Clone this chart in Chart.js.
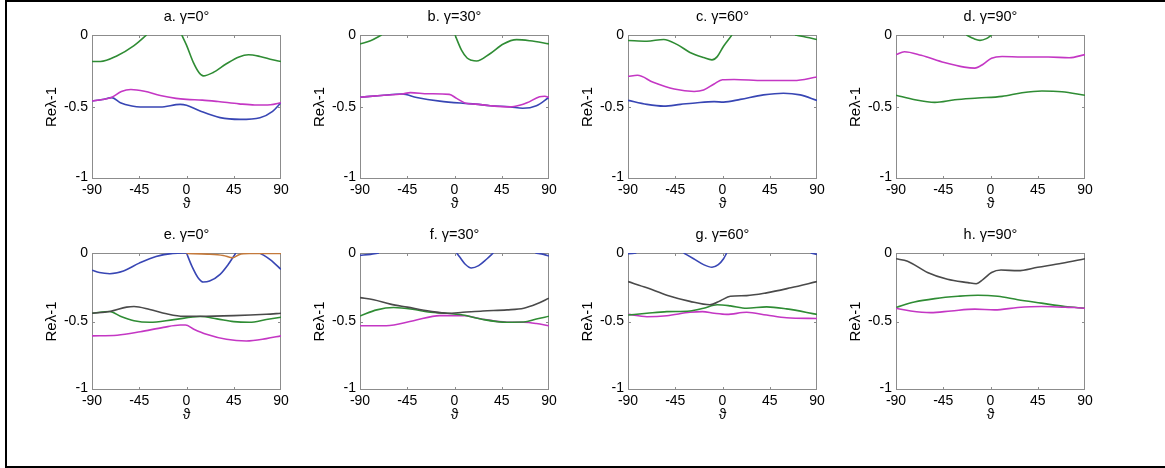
<!DOCTYPE html>
<html>
<head>
<meta charset="utf-8">
<script src="https://cdn.jsdelivr.net/npm/chart.js@4.4.1/dist/chart.umd.min.js"></script>
<style>
  html, body { margin: 0; padding: 0; background: #fff; }
  body { width: 1165px; height: 468px; position: relative; overflow: hidden; }
  #frame { position: absolute; left: 5px; top: 0; width: 1200px; height: 468px;
           border: 2px solid #000; border-right: none; box-sizing: border-box; }
  canvas { position: absolute; }
</style>
</head>
<body>
<div id="frame"></div>
<script>
// Axis ticks (degrees for ϑ, Re λ - 1 on the vertical axis)
const thetaTicks = [-90, -45, 0, 45, 90];
const reTicks = [-1, -0.5, 0];

const panelTitles = ['a. γ=0°', 'b. γ=30°', 'c. γ=60°', 'd. γ=90°',
                     'e. γ=0°', 'f. γ=30°', 'g. γ=60°', 'h. γ=90°'];

// Branches, as [ϑ, Re λ - 1] pairs. Branches that leave the top of the
// window are split into separate pieces.
const aGreen1 = [[-90,-0.184],[-82,-0.184],[-66,-0.144],[-50,-0.074],[-38,0]];
const aGreen2 = [[-4.5,0],[0,-0.07],[6.5,-0.19],[12,-0.262],[16,-0.284],[25,-0.262],[38,-0.2],[50,-0.152],[59,-0.137],[70,-0.149],[82,-0.172],[90,-0.184]];
const aMagenta = [[-90,-0.458],[-80,-0.448],[-71,-0.432],[-62,-0.392],[-53,-0.378],[-40,-0.39],[-25,-0.42],[-10,-0.44],[0,-0.447],[15,-0.452],[30,-0.462],[50,-0.478],[65,-0.486],[80,-0.484],[90,-0.47]];
const aBlue = [[-90,-0.458],[-80,-0.448],[-71,-0.435],[-63,-0.47],[-52,-0.493],[-44,-0.5],[-25,-0.5],[-6,-0.482],[0,-0.488],[13,-0.528],[32,-0.574],[51,-0.586],[70,-0.574],[82,-0.53],[90,-0.47]];

const bGreen1 = [[-90,-0.062],[-80,-0.04],[-69.4,0]];
const bGreen2 = [[0.5,0],[6.8,-0.107],[12,-0.16],[16.3,-0.176],[21,-0.181],[33.8,-0.13],[46.5,-0.062],[59.2,-0.032],[71.9,-0.04],[90,-0.062]];
const bMagenta = [[-90,-0.432],[-70,-0.42],[-50,-0.41],[-42,-0.4],[-25,-0.408],[-5,-0.412],[2,-0.44],[11,-0.474],[20,-0.48],[34,-0.491],[53,-0.499],[62,-0.488],[69,-0.471],[81,-0.429],[86,-0.425],[90,-0.434]];
const bBlue = [[-90,-0.432],[-70,-0.42],[-50,-0.41],[-36,-0.434],[-14,-0.459],[8,-0.474],[20,-0.48],[34,-0.491],[53,-0.499],[65,-0.509],[78,-0.491],[90,-0.432]];

const cGreen1 = [[-90,-0.038],[-72,-0.043],[-56,-0.031],[-43,-0.067],[-31,-0.121],[-18,-0.157],[-10,-0.173],[-5,-0.15],[1,-0.078],[9,0]];
const cGreen2 = [[69,0],[80,-0.015],[90,-0.031]];
const cMagenta = [[-90,-0.287],[-81,-0.28],[-66,-0.328],[-46,-0.375],[-27,-0.392],[-18,-0.382],[-8,-0.34],[0,-0.311],[11,-0.309],[39,-0.316],[68,-0.316],[90,-0.292]];
const cBlue = [[-90,-0.454],[-72,-0.482],[-56,-0.494],[-40,-0.482],[-24,-0.47],[-8,-0.463],[1,-0.466],[17,-0.447],[39,-0.416],[58,-0.404],[74,-0.416],[90,-0.454]];

const dGreen1 = [[-23,0],[-16,-0.025],[-10,-0.037],[-4,-0.025],[1,0]];
const dGreen2 = [[-90,-0.418],[-72,-0.45],[-53,-0.468],[-34,-0.45],[-12,-0.438],[11,-0.426],[30,-0.401],[49,-0.389],[68,-0.394],[90,-0.418]];
const dMagenta = [[-90,-0.136],[-82,-0.116],[-66,-0.141],[-44,-0.191],[-25,-0.223],[-15,-0.23],[-7,-0.203],[1,-0.161],[11,-0.149],[30,-0.153],[55,-0.153],[75,-0.158],[90,-0.136]];

const eBlue1 = [[-90,-0.126],[-83,-0.143],[-73,-0.151],[-60,-0.131],[-45,-0.074],[-29,-0.025],[-13,-0.003],[0,0]];
const eBlue2 = [[0,0],[5,-0.094],[11,-0.18],[16,-0.212],[22,-0.205],[32,-0.156],[40,-0.081],[44,-0.035],[47,0]];
const eBlue3 = [[70,0],[80,-0.05],[90,-0.119]];
const eOrange = [[0,-0.003],[20,-0.008],[35,-0.018],[44,-0.035],[50,-0.012],[60,-0.004],[75,-0.004],[90,-0.003]];
const eBlack = [[-90,-0.44],[-73,-0.427],[-57,-0.395],[-50,-0.39],[-35,-0.412],[-19,-0.444],[-3,-0.462],[13,-0.462],[45,-0.457],[76,-0.447],[90,-0.44]];
const eGreen = [[-90,-0.44],[-73,-0.427],[-63,-0.462],[-50,-0.494],[-35,-0.506],[-12,-0.486],[13,-0.464],[29,-0.481],[45,-0.501],[60,-0.506],[76,-0.486],[90,-0.469]];
const eMagenta = [[-90,-0.605],[-66,-0.6],[-44,-0.575],[-22,-0.543],[-6,-0.526],[-1,-0.526],[7,-0.556],[19,-0.593],[38,-0.63],[57,-0.642],[76,-0.625],[90,-0.605]];

const fBlue1 = [[-90,-0.017],[-80,-0.01],[-72,0]];
const fBlue2 = [[2,0],[5,-0.03],[10,-0.08],[16,-0.109],[23,-0.092],[31,-0.042],[37,0]];
const fBlue3 = [[77,0],[85,-0.01],[90,-0.022]];
const fBlack = [[-90,-0.326],[-77,-0.341],[-61,-0.373],[-45,-0.395],[-23,-0.425],[-7,-0.44],[8,-0.433],[27,-0.423],[50,-0.415],[66,-0.403],[78,-0.373],[90,-0.33]];
const fGreen = [[-90,-0.46],[-74,-0.415],[-58,-0.398],[-40,-0.41],[-23,-0.433],[-7,-0.44],[8,-0.453],[27,-0.485],[50,-0.505],[66,-0.504],[78,-0.482],[90,-0.462]];
const fMagenta = [[-90,-0.531],[-65,-0.531],[-39,-0.494],[-14,-0.457],[2,-0.457],[10,-0.458],[27,-0.483],[50,-0.505],[66,-0.506],[78,-0.515],[90,-0.531]];

const gBlue1 = [[-90,-0.005],[-82,0]];
const gBlue2 = [[-37,0],[-27.5,-0.042],[-18,-0.085],[-10,-0.104],[-4,-0.085],[1,-0.042],[4,0]];
const gBlue3 = [[84,0],[90,-0.01]];
const gBlack = [[-90,-0.209],[-72,-0.254],[-53,-0.308],[-31,-0.353],[-12,-0.378],[-2,-0.348],[7.5,-0.316],[23,-0.311],[42,-0.291],[65,-0.254],[90,-0.209]];
const gGreen = [[-90,-0.453],[-72,-0.44],[-53,-0.428],[-31,-0.423],[-18,-0.403],[-5,-0.378],[7.5,-0.386],[23,-0.403],[42,-0.393],[61,-0.408],[90,-0.448]];
const gMagenta = [[-90,-0.448],[-72,-0.465],[-53,-0.458],[-31,-0.433],[-19,-0.428],[-8,-0.44],[4,-0.448],[23,-0.433],[42,-0.453],[61,-0.473],[90,-0.478]];

const hBlack = [[-90,-0.042],[-79,-0.06],[-60,-0.142],[-41,-0.192],[-21.5,-0.216],[-13.6,-0.224],[-7,-0.192],[1,-0.142],[10,-0.124],[26,-0.129],[45,-0.104],[68,-0.075],[90,-0.042]];
const hGreen = [[-90,-0.398],[-72.5,-0.358],[-53,-0.333],[-31,-0.316],[-12,-0.308],[7,-0.316],[26,-0.341],[48.5,-0.366],[71,-0.391],[90,-0.403]];
const hMagenta = [[-90,-0.403],[-76,-0.423],[-57,-0.435],[-37.5,-0.423],[-15,-0.41],[4,-0.415],[26,-0.398],[48.5,-0.391],[71,-0.396],[80,-0.398],[90,-0.403]];

const GREEN = '#2f8c34', MAGENTA = '#c437c4', BLUE = '#3846b4', BLACK = '#4a4a4a', ORANGE = '#c47a3c';

// first entry is drawn on top
const panelSeries = [
  [[aMagenta, MAGENTA], [aBlue, BLUE], [aGreen1, GREEN], [aGreen2, GREEN]],
  [[bMagenta, MAGENTA], [bBlue, BLUE], [bGreen1, GREEN], [bGreen2, GREEN]],
  [[cMagenta, MAGENTA], [cBlue, BLUE], [cGreen1, GREEN], [cGreen2, GREEN]],
  [[dMagenta, MAGENTA], [dGreen1, GREEN], [dGreen2, GREEN]],
  [[eOrange, ORANGE], [eBlue1, BLUE], [eBlue2, BLUE], [eBlue3, BLUE], [eBlack, BLACK], [eGreen, GREEN], [eMagenta, MAGENTA]],
  [[fBlue1, BLUE], [fBlue2, BLUE], [fBlue3, BLUE], [fBlack, BLACK], [fGreen, GREEN], [fMagenta, MAGENTA]],
  [[gBlue1, BLUE], [gBlue2, BLUE], [gBlue3, BLUE], [gBlack, BLACK], [gGreen, GREEN], [gMagenta, MAGENTA]],
  [[hBlack, BLACK], [hMagenta, MAGENTA], [hGreen, GREEN]]
];

// page layout of the plotting windows
const colLeft = [92, 360, 628, 896];
const rowTop = [35, 253];
const rowHeight = [144, 137];
const PLOT_W = 189;
const PAD_L = 70, PAD_R = 20, PAD_T = 35, PAD_B = 45;
const FONT = '"Liberation Sans", Arial, Helvetica, sans-serif';

// grey box round the plotting window plus short inward tick marks
const boxPlugin = {
  id: 'box',
  beforeDatasetsDraw(chart) {
    const { ctx, chartArea: a, scales: { x, y } } = chart;
    ctx.save();
    ctx.strokeStyle = '#8c8c8c';
    ctx.lineWidth = 1;
    ctx.strokeRect(a.left + 0.5, a.top + 0.5, a.right - a.left - 1, a.bottom - a.top - 1);
    ctx.beginPath();
    thetaTicks.slice(1, -1).forEach(v => {
      const px = Math.round(x.getPixelForValue(v)) + 0.5;
      ctx.moveTo(px, a.bottom); ctx.lineTo(px, a.bottom - 3);
      ctx.moveTo(px, a.top); ctx.lineTo(px, a.top + 3);
    });
    reTicks.slice(1, -1).forEach(v => {
      const py = Math.round(y.getPixelForValue(v)) + 0.5;
      ctx.moveTo(a.left, py); ctx.lineTo(a.left + 3, py);
      ctx.moveTo(a.right, py); ctx.lineTo(a.right - 3, py);
    });
    ctx.stroke();
    ctx.restore();
  }
};

function makePanel(i) {
  const col = i % 4, row = Math.floor(i / 4);
  const plotH = rowHeight[row];
  const w = PLOT_W + PAD_L + PAD_R, h = plotH + PAD_T + PAD_B;
  const cv = document.createElement('canvas');
  cv.width = w; cv.height = h;
  cv.style.left = (colLeft[col] - PAD_L) + 'px';
  cv.style.top = (rowTop[row] - PAD_T) + 'px';
  cv.style.width = w + 'px';
  cv.style.height = h + 'px';
  document.body.appendChild(cv);

  const datasets = panelSeries[i].map(([pts, color]) => ({
    data: pts.map(([x, y]) => ({ x, y })),
    borderColor: color,
    borderWidth: 1.6,
    pointRadius: 0,
    fill: false,
    cubicInterpolationMode: 'monotone'
  }));

  new Chart(cv, {
    type: 'line',
    data: { datasets },
    options: {
      responsive: false,
      animation: false,
      devicePixelRatio: 1,
      events: [],
      layout: { padding: { left: 0, right: PAD_R, top: 0, bottom: 0 } },
      plugins: {
        legend: { display: false },
        tooltip: { enabled: false },
        title: {
          display: true,
          fullSize: false,
          text: panelTitles[i],
          color: '#000',
          font: { family: FONT, size: 14.5, weight: 'normal', lineHeight: 1.2 },
          padding: { top: 8.3, bottom: 9.3 }
        }
      },
      scales: {
        x: {
          type: 'linear',
          min: -90, max: 90,
          afterBuildTicks: s => { s.ticks = thetaTicks.map(v => ({ value: v })); },
          afterFit: s => { s.height = PAD_B; },
          grid: { display: false, drawTicks: false },
          border: { display: false },
          ticks: {
            color: '#000', padding: 3, maxRotation: 0, autoSkip: false,
            font: { family: FONT, size: 14 },
            callback: v => String(v)
          },
          title: {
            display: true, text: 'ϑ', color: '#000',
            font: { family: FONT, size: 14, lineHeight: 1.2 },
            padding: { top: 0, bottom: 11.8 }
          }
        },
        y: {
          type: 'linear',
          min: -1, max: 0,
          afterBuildTicks: s => { s.ticks = reTicks.map(v => ({ value: v })); },
          afterFit: s => { s.width = PAD_L; },
          grid: { display: false, drawTicks: false },
          border: { display: false },
          ticks: {
            color: '#000', padding: 4, autoSkip: false,
            font: { family: FONT, size: 14, lineHeight: 0.25 },
            callback: v => (v === -1 ? ['-1', ''] : String(v))
          },
          title: {
            display: true, text: 'Reλ-1', color: '#000',
            font: { family: FONT, size: 15, lineHeight: 1.2 },
            padding: { top: 21, bottom: 0 }
          }
        }
      }
    },
    plugins: [boxPlugin]
  });
}

for (let i = 0; i < 8; i++) makePanel(i);
</script>
</body>
</html>
